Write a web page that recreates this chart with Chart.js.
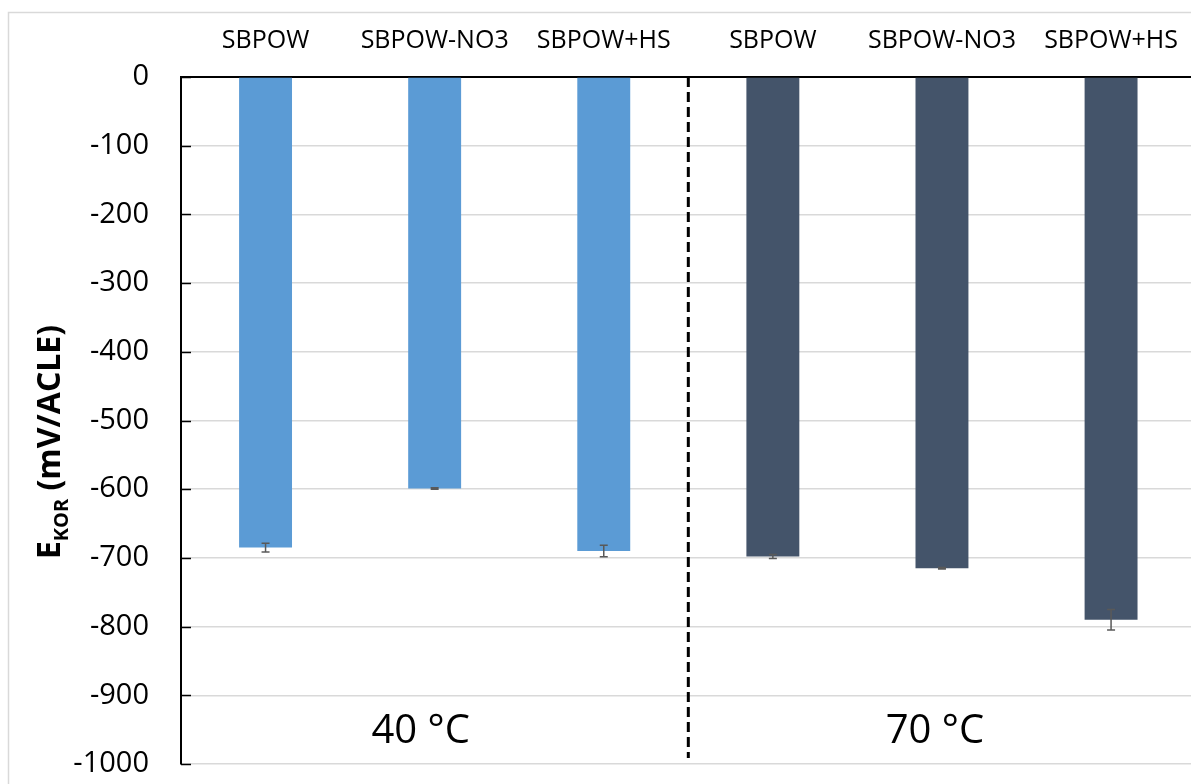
<!DOCTYPE html>
<html>
<head>
<meta charset="utf-8">
<script src="https://cdn.jsdelivr.net/npm/chart.js@4"></script>
<style>
  html, body { margin: 0; padding: 0; background: #fff; overflow: hidden; }
  #wrap { position: absolute; left: 0; top: 0; width: 1199px; height: 784px; }
</style>
</head>
<body>
<div id="wrap"><canvas id="c"></canvas></div>
<script>
// Corrosion potential (E_KOR) per medium, at two temperatures
const categories = ['SBPOW', 'SBPOW-NO3', 'SBPOW+HS', 'SBPOW', 'SBPOW-NO3', 'SBPOW+HS'];
const values40 = [-685, -599, -690];
const values70 = [-698, -715, -790];
const errors40 = [6.5, 1, 8.5];
const errors70 = [3, 1, 15];
const tempLabels = ['40 °C', '70 °C'];
const yTicks = [0, -100, -200, -300, -400, -500, -600, -700, -800, -900, -1000];

const FONT = '"Open Sans", "Noto Sans", sans-serif';

const data40 = values40.concat([null, null, null]);
const data70 = [null, null, null].concat(values70);
const err40 = errors40.concat([null, null, null]);
const err70 = [null, null, null].concat(errors70);

const decor = {
  id: 'decor',
  beforeDraw(chart) {
    const ctx = chart.ctx;
    ctx.save();
    ctx.strokeStyle = '#d9d9d9';
    ctx.lineWidth = 1.5;
    ctx.strokeRect(8.5, 12.5, 3000, 3000);
    ctx.restore();
  },
  afterDatasetsDraw(chart) {
    const ctx = chart.ctx;
    const x = chart.scales.x, y = chart.scales.y;
    const area = chart.chartArea;
    ctx.save();

    // error bars
    ctx.strokeStyle = '#595959';
    ctx.lineWidth = 1.5;
    const drawErr = (vals, errs) => {
      vals.forEach((v, i) => {
        if (v === null) return;
        const cx = x.getPixelForValue(i);
        const yt = y.getPixelForValue(v + errs[i]);
        const yb = y.getPixelForValue(v - errs[i]);
        ctx.beginPath();
        ctx.moveTo(cx, yt); ctx.lineTo(cx, yb);
        ctx.moveTo(cx - 4, yt); ctx.lineTo(cx + 4, yt);
        ctx.moveTo(cx - 4, yb); ctx.lineTo(cx + 4, yb);
        ctx.stroke();
      });
    };
    drawErr(data40, err40);
    drawErr(data70, err70);

    // inner tick marks on the value axis
    ctx.strokeStyle = '#000';
    ctx.lineWidth = 1.5;
    yTicks.forEach(t => {
      const py = Math.round(y.getPixelForValue(t)) + 0.5;
      ctx.beginPath();
      ctx.moveTo(area.left, py); ctx.lineTo(area.left + 10, py);
      ctx.stroke();
    });

    // dashed separator between the two temperature groups
    const sx = (x.getPixelForValue(2) + x.getPixelForValue(3)) / 2;
    ctx.setLineDash([10, 5]);
    ctx.lineWidth = 3;
    ctx.beginPath();
    ctx.moveTo(sx, area.top);
    ctx.lineTo(sx, area.bottom - 6);
    ctx.stroke();
    ctx.setLineDash([]);

    // temperature labels
    ctx.fillStyle = '#000';
    ctx.font = '40px ' + FONT;
    ctx.textAlign = 'center';
    ctx.textBaseline = 'alphabetic';
    ctx.fillText(tempLabels[0], x.getPixelForValue(1) - 14, 743);
    ctx.fillText(tempLabels[1], x.getPixelForValue(4) - 7, 743);

    // value axis title with subscript
    const main = 'E', sub = 'KOR', rest = ' (mV/ACLE)';
    const fMain = 'bold 32px ' + FONT, fSub = 'bold 20px ' + FONT;
    ctx.font = fMain; const wE = ctx.measureText(main).width; const wR = ctx.measureText(rest).width;
    ctx.font = fSub; const wS = ctx.measureText(sub).width;
    const total = wE + wS + wR;
    ctx.translate(60, 442);
    ctx.rotate(-Math.PI / 2);
    ctx.textAlign = 'left';
    let px = -total / 2;
    ctx.font = fMain; ctx.fillText(main, px, 0); px += wE;
    ctx.font = fSub; ctx.fillText(sub, px, 8); px += wS;
    ctx.font = fMain; ctx.fillText(rest, px, 0);
    ctx.restore();
  }
};

new Chart(document.getElementById('c'), {
  type: 'bar',
  data: {
    labels: categories,
    datasets: [
      { data: data40, backgroundColor: '#5b9bd5', grouped: false },
      { data: data70, backgroundColor: '#44546a', grouped: false }
    ]
  },
  options: {
    responsive: true,
    maintainAspectRatio: false,
    animation: false,
    layout: { padding: { left: 0, right: 0, top: 0, bottom: 20 } },
    datasets: { bar: { barPercentage: 0.313, categoryPercentage: 1 } },
    plugins: { legend: { display: false }, tooltip: { enabled: false } },
    scales: {
      x: {
        position: 'top',
        grid: { display: false, drawTicks: false },
        border: { display: true, color: '#000', width: 2 },
        ticks: { color: '#000', font: { family: FONT, size: 25 }, padding: 21, maxRotation: 0, autoSkip: false },
        afterFit(s) { s.height = 77; }
      },
      y: {
        min: -1000, max: 0,
        grid: { color: '#d9d9d9', lineWidth: 1.5, drawTicks: false },
        border: { display: true, color: '#000', width: 2 },
        ticks: {
          stepSize: 100, color: '#000', padding: 32,
          font: { family: FONT, size: 29 },
          callback: (v) => String(v)
        },
        afterFit(s) { s.width = 181; s.paddingTop = 0; s.paddingBottom = 0; }
      }
    }
  },
  plugins: [decor]
});
</script>
</body>
</html>
